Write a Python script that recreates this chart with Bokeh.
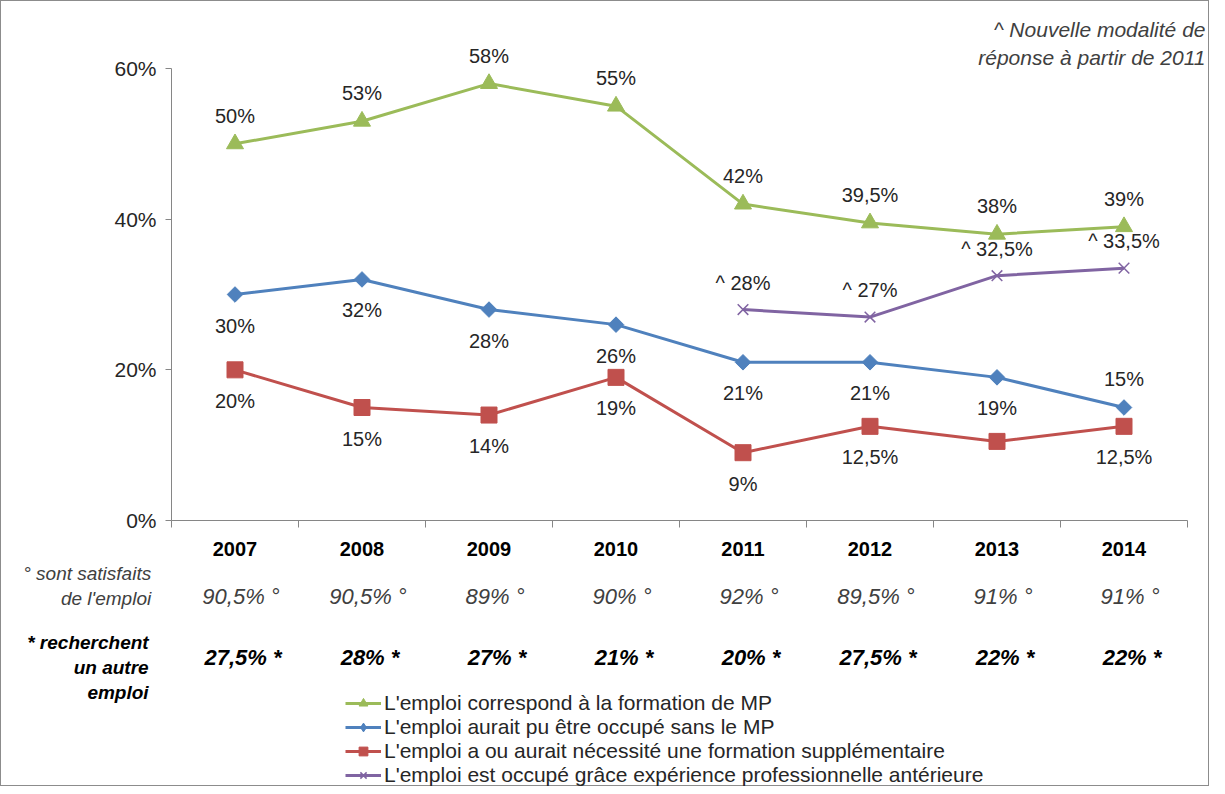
import math
from bokeh.plotting import figure
from bokeh.models import (ColumnDataSource, LabelSet, Label, Legend, LegendItem,
                          Range1d, FixedTicker)
from bokeh.core.properties import value
from bokeh.embed import file_html
from bokeh.resources import INLINE

# ---------------- data ----------------
years = ["2007", "2008", "2009", "2010", "2011", "2012", "2013", "2014"]
correspond = [50, 53, 58, 55, 42, 39.5, 38, 39]
sans_mp = [30, 32, 28, 26, 21, 21, 19, 15]
formation_supp = [20, 15, 14, 19, 9, 12.5, 10.5, 12.5]
experience = [math.nan, math.nan, math.nan, math.nan, 28, 27, 32.5, 33.5]

satisfaits = ["90,5% °", "90,5% °", "89% °", "90% °", "92% °", "89,5% °", "91% °", "91% °"]
recherchent = ["27,5% *", "28% *", "27% *", "21% *", "20% *", "27,5% *", "22% *", "22% *"]

y_ticks = [0, 20, 40, 60]
y_tick_labels = ["0%", "20%", "40%", "60%"]

series_names = [
    "L'emploi correspond à la formation de MP",
    "L'emploi aurait pu être occupé sans le MP",
    "L'emploi a ou aurait nécessité une formation supplémentaire",
    "L'emploi est occupé grâce expérience professionnelle antérieure",
]
row1_title = "° sont satisfaits\nde l'emploi"
row2_title = "* recherchent\nun autre\nemploi"
note_text = "^ Nouvelle modalité de\nréponse à partir de 2011"

# ---------------- styles ----------------
GREEN, BLUE, RED, PURPLE = "#9BBB59", "#4F81BD", "#C0504D", "#8064A2"
FONT = "Liberation Sans"
TXT = "#262626"
AX = "#868686"

W, H = 1209, 786
# pixel geometry of the plot area inside the canvas
LEFT, RIGHT, TOP, BOTTOM = 170, 1186, 67, 519
n = len(years)
xs = list(range(n))
ux = (RIGHT - LEFT) / n          # px per category
uy = (BOTTOM - TOP) / 60.0       # px per percent
x0 = -0.5 - LEFT / ux
x1 = n - 0.5 + (W - RIGHT) / ux
y1 = 60 + TOP / uy
y0 = -(H - BOTTOM) / uy


def pct(v):
    return f"{v:g}".replace(".", ",") + "%"


p = figure(width=W, height=H, x_range=Range1d(x0, x1), y_range=Range1d(y0, y1),
           output_backend="svg", toolbar_location=None,
           min_border_left=0, min_border_right=0, min_border_top=0, min_border_bottom=0)
p.styles = {"border": "1px solid #8c8c8c"}
p.grid.visible = False
p.outline_line_color = None
p.background_fill_color = "white"
p.border_fill_color = "white"

# y axis
ya = p.yaxis[0]
ya.fixed_location = -0.5
ya.bounds = (0, 60)
ya.ticker = FixedTicker(ticks=y_ticks)
ya.major_label_overrides = {t: l for t, l in zip(y_ticks, y_tick_labels)}
ya.axis_line_color = AX
ya.major_tick_line_color = AX
ya.major_tick_out = 6
ya.major_tick_in = 0
ya.minor_tick_line_color = None
ya.major_label_standoff = 9
ya.major_label_text_font = FONT
ya.major_label_text_font_size = "21px"
ya.major_label_text_color = TXT

# x axis (categories at centres, tick marks between categories)
xa = p.xaxis[0]
xa.fixed_location = 0
xa.bounds = (-0.5, n - 0.5)
xa.ticker = FixedTicker(ticks=xs, minor_ticks=[i - 0.5 for i in range(n + 1)])
xa.major_label_overrides = {i: y for i, y in zip(xs, years)}
xa.axis_line_color = AX
xa.major_tick_line_color = None
xa.minor_tick_line_color = AX
xa.minor_tick_out = 7
xa.minor_tick_in = 0
xa.major_label_standoff = 14
xa.major_label_text_font = FONT
xa.major_label_text_font_size = "20px"
xa.major_label_text_font_style = "bold"
xa.major_label_text_color = "#000000"

# ---------------- series ----------------
specs = [
    (correspond, GREEN, "triangle", 17, 0, 1, None),
    (sans_mp, BLUE, "square", 11, math.pi / 4, 1, "diamond"),
    (formation_supp, RED, "square", 16, 0, 1, None),
    (experience, PURPLE, "x", 15, 0, 1.5, None),
]
items = []
for (vals, col, mk, sz, ang, lw, lmk), name in zip(specs, series_names):
    src = ColumnDataSource(dict(x=xs, y=vals))
    lr = p.line("x", "y", source=src, line_color=col, line_width=3)
    sr = p.scatter("x", "y", source=src, marker=mk, size=sz, angle=ang, fill_color=col,
                   line_color=col, line_width=lw)
    if lmk is not None:
        # legend-only swatch marker (no visible point)
        sr = p.scatter(x=[math.nan], y=[math.nan], marker=lmk, size=sz + 4, fill_color=col,
                       line_color=col, line_width=lw)
    items.append(LegendItem(label=name, renderers=[lr, sr]))


def add_labels(vals, dys, prefix="", skip=()):
    d = dict(x=[], y=[], t=[], dy=[])
    for i, v in enumerate(vals):
        if math.isnan(v) or i in skip:
            continue
        d["x"].append(xs[i])
        d["y"].append(v)
        d["t"].append(prefix + pct(v))
        d["dy"].append(dys[i])
    ls = LabelSet(x="x", y="y", text="t", y_offset="dy", source=ColumnDataSource(d),
                  text_align="center", text_baseline="middle", text_font=value(FONT),
                  text_font_size=value("20px"), text_color=TXT)
    p.add_layout(ls)


add_labels(correspond, [28] * n)
add_labels(sans_mp, [-31] * (n - 1) + [29])
add_labels(formation_supp, [-31] * n, skip=(6,))
add_labels(experience, [27] * n, prefix="^ ")

# ---------------- rows under the axis ----------------
row1 = LabelSet(x="x", y=-10.1, text="t", x_offset=6,
                source=ColumnDataSource(dict(x=xs, t=satisfaits)),
                text_align="center", text_baseline="middle", text_font=value(FONT),
                text_font_size=value("22px"), text_font_style=value("italic"),
                text_color="#404040")
row2 = LabelSet(x="x", y=-18.2, text="t", x_offset=8,
                source=ColumnDataSource(dict(x=xs, t=recherchent)),
                text_align="center", text_baseline="middle", text_font=value(FONT),
                text_font_size=value("22px"), text_font_style=value("bold italic"),
                text_color="#000000")
p.add_layout(row1)
p.add_layout(row2)

p.add_layout(Label(x=-0.66, y=-8.7, text=row1_title, text_align="right", text_baseline="middle",
                   text_font=FONT, text_font_size="19px", text_font_style="italic",
                   text_color="#404040"))
p.add_layout(Label(x=-0.68, y=-19.5, text=row2_title, text_align="right", text_baseline="middle",
                   text_font=FONT, text_font_size="19px", text_font_style="bold italic",
                   text_color="#000000"))

# note top right
p.add_layout(Label(x=n - 0.5 + 18 / ux, y=60 + 25 / uy, text=note_text, text_align="right",
                   text_baseline="middle", text_font=FONT, text_font_size="21px",
                   text_font_style="italic", text_color="#404040"))

# ---------------- legend ----------------
legend = Legend(items=items, location=(344, 0), orientation="vertical",
                label_text_font=FONT, label_text_font_size="21px", label_text_color=TXT,
                label_height=22, glyph_height=22, glyph_width=36, label_standoff=3,
                spacing=0, padding=0, margin=0, border_line_color=None,
                background_fill_alpha=0)
p.add_layout(legend)

open("out.html", "w").write(file_html(p, INLINE))
